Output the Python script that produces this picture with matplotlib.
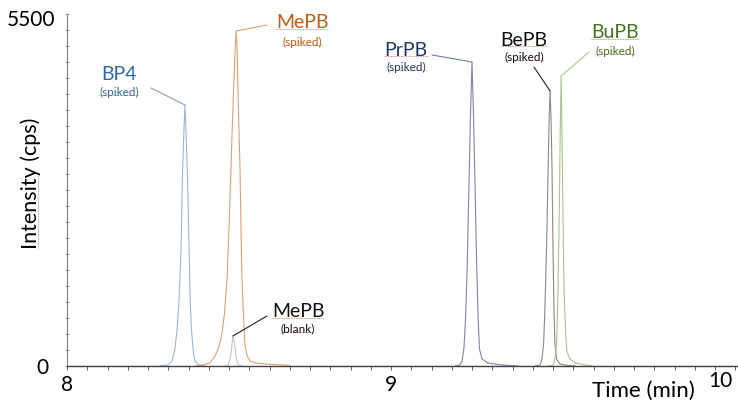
import matplotlib
matplotlib.use("Agg")
import matplotlib.pyplot as plt
from matplotlib.lines import Line2D
import numpy as np

plt.rcParams['font.family'] = ['Lato', 'DejaVu Sans']

# chromatogram traces: time (min), intensity (cps)
bp4_t = [8.287, 8.312, 8.324, 8.333, 8.340, 8.346, 8.352, 8.356, 8.361, 8.364,
         8.367, 8.372, 8.377, 8.380, 8.384, 8.389, 8.395, 8.407, 8.426]
bp4_i = [0, 16, 78, 266, 578, 1047, 1828, 2922, 3703, 4078,
         3703, 2922, 1828, 1047, 578, 266, 78, 16, 0]

mepb_t = [8.395, 8.420, 8.441, 8.457, 8.469, 8.478, 8.486, 8.494, 8.500, 8.506,
          8.512, 8.519, 8.522, 8.525, 8.529, 8.534, 8.537, 8.540, 8.545, 8.549,
          8.556, 8.565, 8.583, 8.611, 8.642, 8.673, 8.688]
mepb_i = [0, 16, 47, 156, 297, 500, 813, 1359, 2141, 3078,
          4016, 4953, 5234, 4953, 4016, 3078, 2141, 1359, 734, 344,
          156, 78, 47, 31, 23, 16, 0]

blank_t = [8.488, 8.497, 8.503, 8.508, 8.511, 8.512, 8.515, 8.519, 8.523, 8.529, 8.540]
blank_i = [0, 16, 109, 266, 422, 469, 422, 266, 109, 16, 0]

prpb_t = [9.198, 9.213, 9.219, 9.225, 9.230, 9.235, 9.241, 9.245, 9.250, 9.255,
          9.259, 9.264, 9.269, 9.273, 9.281, 9.299, 9.330, 9.367, 9.392]
prpb_i = [0, 16, 78, 266, 734, 1516, 2922, 3859, 4750, 3859,
          2922, 1672, 734, 266, 109, 47, 23, 8, 0]

bepb_t = [9.444, 9.460, 9.466, 9.471, 9.475, 9.480, 9.485, 9.488, 9.491, 9.494,
          9.497, 9.500, 9.503, 9.506, 9.511, 9.522, 9.546, 9.568]
bepb_i = [0, 16, 109, 344, 891, 1828, 3078, 3859, 4297, 3859,
          3078, 1828, 891, 344, 109, 31, 8, 0]

bupb_t = [9.485, 9.500, 9.506, 9.511, 9.515, 9.519, 9.522, 9.525, 9.528, 9.531,
          9.534, 9.539, 9.543, 9.552, 9.571, 9.599, 9.620]
bupb_i = [0, 16, 109, 344, 1047, 2297, 3547, 4531, 3547, 2297,
          1203, 500, 234, 109, 47, 16, 0]

W, H = 738, 402


def fx(x):
    return x / W


def fy(y):
    return 1 - y / H


fig = plt.figure(figsize=(W / 100, H / 100), dpi=100)
ax = fig.add_axes([fx(67), fy(367), fx(738) - fx(67), fy(15) - fy(367)])

traces = [
    (bp4_t, bp4_i, '#9bb8d0'),
    (mepb_t, mepb_i, '#e2a070'),
    (blank_t, blank_i, '#c4c4c4'),
    (prpb_t, prpb_i, '#8282aa'),
    (bepb_t, bepb_i, '#8a8a8a'),
    (bupb_t, bupb_i, '#a9c48e'),
]
for t, i, c in traces:
    ax.plot(t, i, color=c, lw=0.8)

ax.set_xlim(8, 8 + 671 / 324)
ax.set_ylim(0, 5500)
ax.spines['top'].set_visible(False)
ax.spines['right'].set_visible(False)
ax.spines['left'].set_color('#808080')
ax.spines['left'].set_linewidth(0.8)
ax.spines['bottom'].set_color('#404040')
ax.spines['bottom'].set_linewidth(1.0)
ax.set_xticks(np.arange(8, 10.07, 1 / 16))
ax.set_yticks(np.arange(0, 5501, 250))
ax.tick_params(axis='x', direction='out', length=3, width=0.7, color='#606060',
               labelbottom=False)
ax.tick_params(axis='y', direction='inout', length=3, width=0.6, color='#808080',
               labelleft=False)

# axis numbers and titles
fig.text(fx(55), fy(20), '5500', ha='right', va='center', fontsize=15)
fig.text(fx(42), fy(368), '0', ha='center', va='center', fontsize=15)
fig.text(fx(67), fy(385), '8', ha='center', va='center', fontsize=15)
fig.text(fx(391), fy(385), '9', ha='center', va='center', fontsize=15)
fig.text(fx(720), fy(381), '10', ha='center', va='center', fontsize=15)
fig.text(fx(643), fy(391), 'Time (min)', ha='center', va='center', fontsize=16)
ylab = fig.text(fx(31), fy(183), 'Intensity (cps)', ha='center', va='center',
                rotation=90, fontsize=15.5)

# peak labels: name, sub text, colour, positions (px), leader start (px), peak
labels = [
    ('BP4', '(spiked)', '#2f6aa6', (119, 75), (119, 92), (151, 89), '#7f9fbf',
     (bp4_t[9], bp4_i[9]), False),
    ('MePB', '(spiked)', '#c55a11', (302, 23), (302, 42), (267, 26), '#e2a070',
     (mepb_t[12], mepb_i[12]), True),
    ('PrPB', '(spiked)', '#1f3864', (406, 50), (406, 67), (432, 56), '#7080a0',
     (prpb_t[8], prpb_i[8]), True),
    ('BePB', '(spiked)', '#111111', (524, 40), (524, 57), (534, 68), '#222222',
     (bepb_t[8], bepb_i[8]), True),
    ('BuPB', '(spiked)', '#44741c', (615, 33), (615, 51), (589, 53), '#a9c48e',
     (bupb_t[7], bupb_i[7]), True),
    ('MePB', '(blank)', '#111111', (298, 312), (298, 329), (267, 317), '#222222',
     (blank_t[5], blank_i[5]), True),
]

underlined = []
for name, sub, col, p1, p2, lead, lcol, peak, ul in labels:
    t1 = fig.text(fx(p1[0]), fy(p1[1]), name, ha='center', va='center',
                  fontsize=14, color=col)
    t2 = fig.text(fx(p2[0]), fy(p2[1]), sub, ha='center', va='center',
                  fontsize=8.5, color=col)
    if ul:
        underlined.append(t1)
    underlined.append(t2)
    ax.annotate('', xy=peak, xycoords='data',
                xytext=(fx(lead[0]), fy(lead[1])), textcoords='figure fraction',
                arrowprops=dict(arrowstyle='-', color=lcol, lw=0.8,
                                shrinkA=0, shrinkB=0))

# red spell-check squiggles under the labels
fig.canvas.draw()
for t in underlined:
    bb = t.get_window_extent()
    yb = bb.y0 + 1.5
    fig.add_artist(Line2D([bb.x0 / W, bb.x1 / W], [yb / H, yb / H],
                          color='#e06666', lw=0.6, ls=(0, (1, 1))))
bb = ylab.get_window_extent()
xb = bb.x1 - 3.5
fig.add_artist(Line2D([xb / W, xb / W], [bb.y0 / H, (bb.y0 + 0.55 * bb.height) / H],
                      color='#e06666', lw=0.6, ls=(0, (1, 1))))

fig.savefig('out.png', dpi=100)
